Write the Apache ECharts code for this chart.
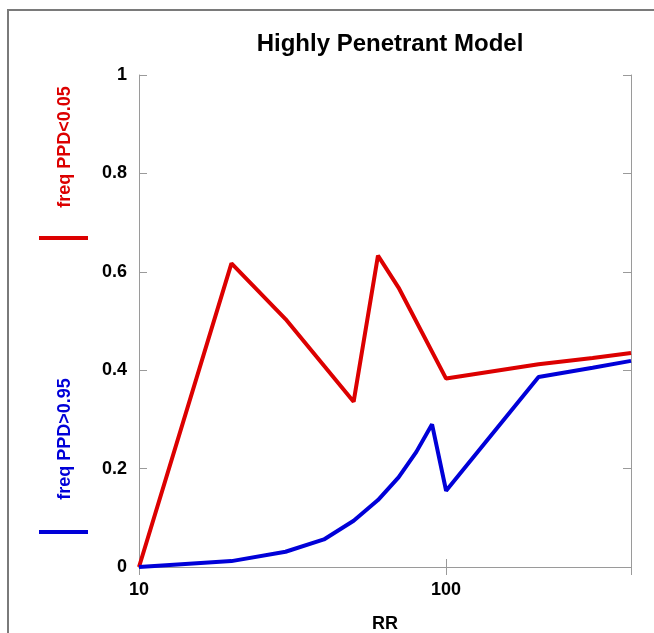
<!DOCTYPE html>
<html><head><meta charset="utf-8">
<script src="https://cdn.jsdelivr.net/npm/echarts@6/dist/echarts.min.js"></script>
<style>html,body{margin:0;padding:0;background:#fff}#c{width:654px;height:633px}</style>
</head><body><div id="c"></div>
<script>
const title = 'Highly Penetrant Model';
const xName = 'RR';
const xLabels = [10, 100];
const redName = 'freq PPD<0.05';
const blueName = 'freq PPD>0.95';
const redRR   = [10, 20, 30, 50, 60, 70, 100, 200, 300, 400];
const redVal  = [0, 0.617, 0.504, 0.336, 0.633, 0.568, 0.383, 0.412, 0.425, 0.435];
const blueRR  = [10, 20, 30, 40, 50, 60, 70, 80, 90, 100, 200, 300, 400];
const blueVal = [0, 0.012, 0.031, 0.056, 0.094, 0.136, 0.182, 0.234, 0.29, 0.155, 0.386, 0.405, 0.419];

const RED = '#dc0000', BLUE = '#0000d8', AX = '#9a9a9a';
const chart = echarts.init(document.getElementById('c'));
const font = 'Liberation Sans, Arial, sans-serif';
chart.setOption({
  animation: false,
  title: {text: title, left: 385, top: 27, textAlign: 'center',
    textStyle: {fontFamily: font, fontSize: 24, fontWeight: 'bold', color: '#000'}},
  grid: {left: 139, right: 23, top: 75, bottom: 66, containLabel: false, outerBoundsMode: 'none'},
  xAxis: [{
    type: 'log', logBase: 10, min: 10, max: 400,
    name: xName, nameLocation: 'middle', nameGap: 48,
    nameTextStyle: {fontFamily: font, fontSize: 18, fontWeight: 'bold', color: '#000'},
    axisLine: {lineStyle: {color: AX, width: 1}},
    axisTick: {inside: true, length: 8, lineStyle: {color: AX}},
    minorTick: {show: false},
    splitLine: {show: false},
    axisLabel: {fontFamily: font, fontSize: 18, fontWeight: 'bold', color: '#000', margin: 14,
      showMaxLabel: false,
      formatter: v => xLabels.indexOf(Math.round(v)) >= 0 ? String(Math.round(v)) : ''}
  }, {
    type: 'log', logBase: 10, min: 10, max: 400, position: 'top',
    axisLine: {lineStyle: {color: AX, width: 1}},
    axisTick: {inside: true, length: 8, lineStyle: {color: AX}},
    axisLabel: {show: false}, splitLine: {show: false}
  }],
  yAxis: [{
    type: 'value', min: 0, max: 1, interval: 0.2,
    axisLine: {show: true, lineStyle: {color: AX, width: 1}},
    axisTick: {show: true, inside: true, length: 8, lineStyle: {color: AX}},
    splitLine: {show: false},
    axisLabel: {fontFamily: font, fontSize: 18, fontWeight: 'bold', color: '#000', margin: 12,
      formatter: v => v === 0 ? '0' : (v === 1 ? '1' : v.toFixed(1))}
  }, {
    type: 'value', min: 0, max: 1, interval: 0.2, position: 'right',
    axisLine: {show: true, lineStyle: {color: AX, width: 1}},
    axisTick: {show: true, inside: true, length: 8, lineStyle: {color: AX}},
    splitLine: {show: false}, axisLabel: {show: false}
  }],
  series: [{
    name: redName, type: 'line', symbol: 'none', xAxisIndex: 0, yAxisIndex: 0,
    lineStyle: {color: RED, width: 4}, itemStyle: {color: RED},
    data: redRR.map((x, i) => [x, redVal[i]]), z: 3
  }, {
    name: blueName, type: 'line', symbol: 'none', xAxisIndex: 0, yAxisIndex: 0,
    lineStyle: {color: BLUE, width: 4}, itemStyle: {color: BLUE},
    data: blueRR.map((x, i) => [x, blueVal[i]]), z: 4
  }],
  graphic: [
    {type: 'rect', shape: {x: 8, y: 10, width: 700, height: 700}, style: {fill: 'none', stroke: '#7a7a7a', lineWidth: 2}, silent: true},
    {type: 'text', x: 65, y: 147, rotation: Math.PI / 2,
      style: {text: redName, fill: RED, font: 'bold 18px ' + font, align: 'center', verticalAlign: 'middle'}},
    {type: 'line', shape: {x1: 39, y1: 238, x2: 88, y2: 238}, style: {stroke: RED, lineWidth: 4}},
    {type: 'text', x: 65, y: 439, rotation: Math.PI / 2,
      style: {text: blueName, fill: BLUE, font: 'bold 18px ' + font, align: 'center', verticalAlign: 'middle'}},
    {type: 'line', shape: {x1: 39, y1: 532, x2: 88, y2: 532}, style: {stroke: BLUE, lineWidth: 4}}
  ]
});
</script></body></html>
